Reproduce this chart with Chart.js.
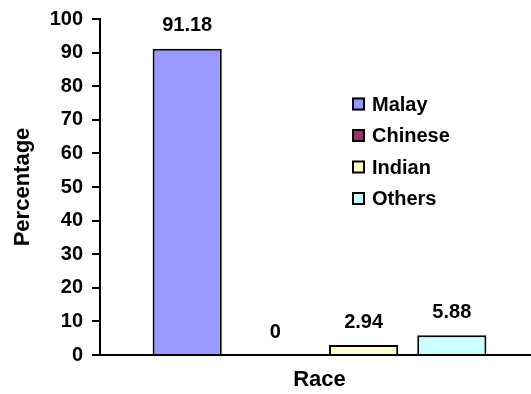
<!DOCTYPE html>
<html>
<head>
<meta charset="utf-8">
<script src="https://cdn.jsdelivr.net/npm/chart.js@4/dist/chart.umd.min.js"></script>
<style>
  html, body { margin: 0; padding: 0; background: #fff; overflow: hidden; }
  #wrap { width: 531px; height: 394px; overflow: hidden; }
</style>
</head>
<body>
<div id="wrap"><canvas id="raceChart" width="539" height="394"></canvas></div>
<script>
// race breakdown, one bar per group
const categories = ['Race'];
const raceNames = ['Malay', 'Chinese', 'Indian', 'Others'];
const raceValues = [91.18, 0, 2.94, 5.88];
const raceColors = ['#9999FF', '#993366', '#FFFFCC', '#CCFFFF'];
const yTicks = [0, 10, 20, 30, 40, 50, 60, 70, 80, 90, 100];

const FONT = 'Arial, "Liberation Sans", sans-serif';

// value printed above each bar
const barValueLabels = {
    id: 'barValueLabels',
    afterDatasetsDraw(chart) {
        const ctx = chart.ctx;
        ctx.save();
        ctx.font = 'bold 20px ' + FONT;
        ctx.fillStyle = '#000';
        ctx.textAlign = 'center';
        ctx.textBaseline = 'middle';
        chart.data.datasets.forEach((ds, i) => {
            const bar = chart.getDatasetMeta(i).data[0];
            ctx.fillText(String(ds.data[0]), bar.x, bar.y - 23);
        });
        ctx.restore();
    }
};

// legend sits inside the plot, right side
const innerLegend = {
    id: 'innerLegend',
    afterDraw(chart) {
        const ctx = chart.ctx;
        const x = 352, y0 = 104, step = 31.5, box = 13;
        ctx.save();
        ctx.font = 'bold 20px ' + FONT;
        ctx.textAlign = 'left';
        ctx.textBaseline = 'middle';
        chart.data.datasets.forEach((ds, i) => {
            const cy = y0 + i * step;
            ctx.fillStyle = ds.backgroundColor;
            ctx.fillRect(x, cy - box / 2, box, box);
            ctx.lineWidth = 2;
            ctx.strokeStyle = '#000';
            ctx.strokeRect(x + 1, cy - box / 2 + 1, box - 2, box - 2);
            ctx.fillStyle = '#000';
            ctx.fillText(ds.label, x + 20, cy + 1);
        });
        ctx.restore();
    }
};

new Chart(document.getElementById('raceChart'), {
    type: 'bar',
    data: {
        labels: categories,
        datasets: raceNames.map((name, i) => ({
            label: name,
            data: [raceValues[i]],
            backgroundColor: raceColors[i],
            borderColor: '#000',
            borderWidth: 2,
            borderSkipped: 'start',
            categoryPercentage: 0.8037,
            barPercentage: 0.784
        }))
    },
    options: {
        responsive: false,
        animation: false,
        layout: { padding: { top: 19, right: 0, left: 0, bottom: 0 } },
        plugins: { legend: { display: false }, tooltip: { enabled: false } },
        scales: {
            x: {
                ticks: { display: false },
                grid: { display: false },
                border: { display: true, color: '#000', width: 2 },
                title: {
                    display: true, text: 'Race', color: '#000',
                    font: { family: FONT, size: 22, weight: 'bold' },
                    padding: { top: 0, bottom: 1 }
                },
                afterFit(scale) { scale.height = 39; }
            },
            y: {
                min: 0,
                max: 100,
                afterBuildTicks(scale) { scale.ticks = yTicks.map(v => ({ value: v })); },
                ticks: {
                    color: '#000', padding: 9,
                    font: { family: FONT, size: 20, weight: 'bold', lineHeight: 1 }
                },
                grid: { drawOnChartArea: false, drawTicks: true, tickLength: 8, color: '#000', lineWidth: 2 },
                border: { display: true, color: '#000', width: 2 },
                title: {
                    display: true, text: 'Percentage', color: '#000',
                    font: { family: FONT, size: 22, weight: 'bold' },
                    padding: { top: 10, bottom: 0 }
                },
                afterFit(scale) { scale.width = 100; }
            }
        }
    },
    plugins: [barValueLabels, innerLegend]
});
</script>
</body>
</html>
